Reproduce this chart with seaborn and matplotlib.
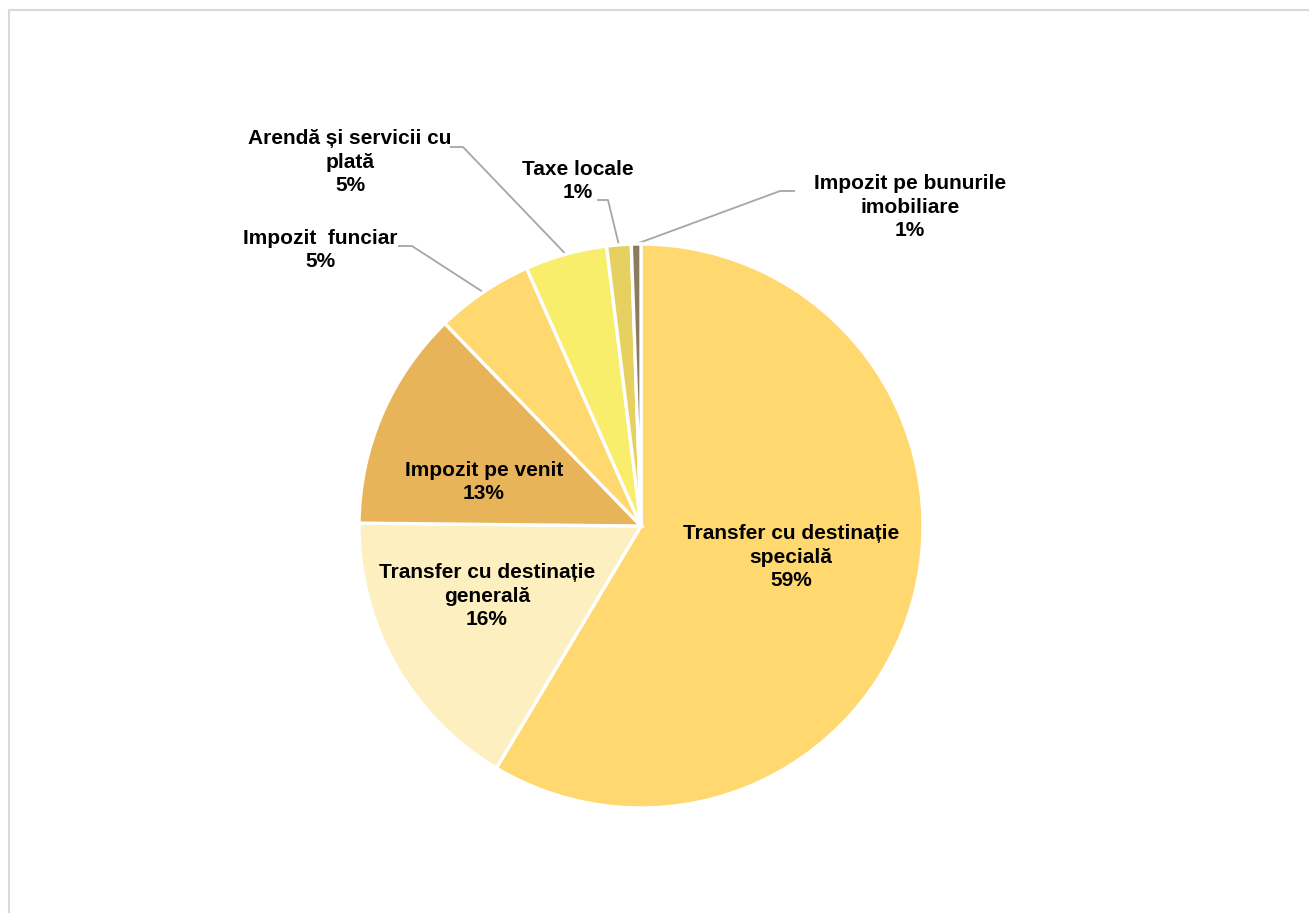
import numpy as np
import matplotlib
matplotlib.use("Agg")
import matplotlib.pyplot as plt
import seaborn as sns

# ---------------------------------------------------------------------------
# Data
# ---------------------------------------------------------------------------
categories = [
    "Transfer cu destinație\nspecială",
    "Transfer cu destinație\ngenerală",
    "Impozit pe venit",
    "Impozit  funciar",
    "Arendă și servicii cu\nplată",
    "Taxe locale",
    "Impozit pe bunurile\nimobiliare",
]
shares = [58.6, 16.6, 12.6, 5.6, 4.7, 1.4, 0.55]
pct_labels = ["59%", "16%", "13%", "5%", "5%", "1%", "1%"]
colors = ["#FFD86F", "#FEEFC0", "#E8B45A", "#FFD86F", "#F8EE6B", "#E6D160", "#8B7B5E"]

# layout (pixel coords, y measured from top)
W, H = 1309, 913
center = (641, 526)
radius = 282
label_pos = [(791, 557), (487, 596), (484, 482), (320, 250), (350, 162), (578, 181), (910, 207)]
# leader line knee (None = label inside wedge)
knee = [None, None, None, (398, 412, 246), (450, 463, 147), (597, 608, 200), (795, 780, 191)]

sns.set_theme(style="white")
plt.rcParams["font.family"] = ["Liberation Sans", "DejaVu Sans"]

fig = plt.figure(figsize=(W / 100, H / 100), dpi=100)
ax = fig.add_axes([0, 0, 1, 1])

cx, cy = center[0], H - center[1]
wedges, _ = ax.pie(
    shares,
    colors=sns.color_palette(colors),
    startangle=90,
    counterclock=False,
    center=(cx, cy),
    radius=radius,
    wedgeprops=dict(edgecolor="white", linewidth=2.4),
    frame=True,
)
ax.set_xlim(0, W)
ax.set_ylim(0, H)
ax.set_aspect("auto")
ax.axis("off")

for i, (w, cat, pct) in enumerate(zip(wedges, categories, pct_labels)):
    lx, ly = label_pos[i]
    ax.text(lx, H - ly, f"{cat}\n{pct}", ha="center", va="center",
            fontsize=15, fontweight="bold", color="black", linespacing=1.3)
    if knee[i] is not None:
        mid = np.deg2rad((w.theta1 + w.theta2) / 2)
        ex = cx + radius * np.cos(mid)
        ey = cy + radius * np.sin(mid)
        x0, x1, ky = knee[i]
        ax.plot([x0, x1, ex], [H - ky, H - ky, ey], color="#A6A6A6", lw=1.3,
                solid_capstyle="butt", zorder=0)

# chart area border (left and top edges visible)
ax.plot([9, 9], [0, H - 10], color="#D9D9D9", lw=1.5)
ax.plot([9, W], [H - 10, H - 10], color="#D9D9D9", lw=1.5)

fig.savefig("out.png", dpi=100, facecolor="white")
